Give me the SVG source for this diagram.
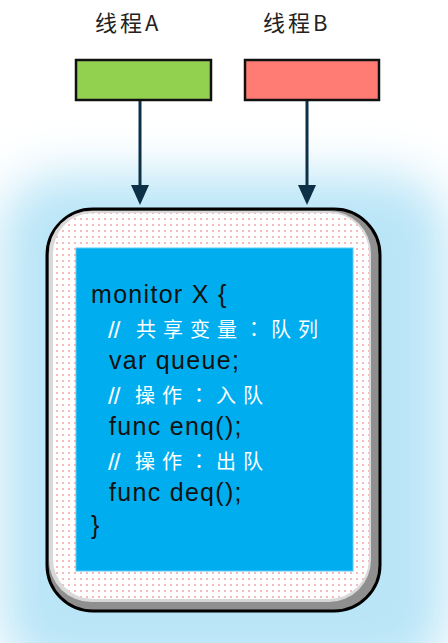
<svg xmlns="http://www.w3.org/2000/svg" width="448" height="643" viewBox="0 0 448 643">
<defs>
<style>
.title{font-family:"Noto Sans CJK SC","Liberation Sans",sans-serif;font-size:22px;fill:#222;letter-spacing:3px}
.code{font-family:"Liberation Sans","Noto Sans CJK SC",sans-serif;font-size:25px;fill:#111;letter-spacing:1.3px}
.sl{font-family:"Liberation Sans",sans-serif;font-size:24px;fill:#ffffff;letter-spacing:-1px}
.cmt{font-family:"Noto Sans CJK SC","Liberation Sans",sans-serif;font-size:20px;fill:#ffffff;letter-spacing:7px}
.col{font-family:"Noto Sans CJK TC","Noto Sans CJK SC",sans-serif}
.conn{stroke:#0d3046;stroke-width:3;fill:none}
</style>
<pattern id="dots" width="6" height="6" patternUnits="userSpaceOnUse">
<rect width="6" height="6" fill="#ffffff"/>
<circle cx="3" cy="3" r="0.9" fill="#f39a9a"/>
</pattern>
<filter id="glow" x="-30%" y="-30%" width="160%" height="160%">
<feGaussianBlur stdDeviation="25"/>
</filter>
</defs>
<rect width="448" height="643" fill="#ffffff"/>
<rect x="0" y="175" width="448" height="500" rx="60" fill="#b9e5f7" filter="url(#glow)"/>
<g id="threadA">
<text class="title" x="95" y="31">线程A</text>
<rect x="76" y="60" width="135" height="40" fill="#92d050" stroke="#111" stroke-width="2.5"/>
</g>
<g id="threadB">
<text class="title" x="263" y="31">线程B</text>
<rect x="245" y="60" width="134" height="40" fill="#ff7c74" stroke="#111" stroke-width="2.5"/>
</g>
<g id="connectors">
<line class="conn" x1="140" y1="101" x2="140" y2="186"/>
<path d="M131,185 L149,185 L140,205 Z" fill="#0d3046"/>
<line class="conn" x1="307" y1="101" x2="307" y2="186"/>
<path d="M298,185 L316,185 L307,205 Z" fill="#0d3046"/>
</g>
<g id="monitor">
<rect x="47" y="209" width="333" height="402" rx="46" fill="#8f8f8f" stroke="#000" stroke-width="3"/>
<rect x="49" y="211" width="322" height="391" rx="42" fill="#d8d8d8"/>
<rect x="53" y="213" width="316" height="386" rx="40" fill="url(#dots)"/>
<rect x="76" y="248" width="277" height="323" fill="#00aeef" stroke="#5cc8f2" stroke-width="1"/>
<text class="code" x="91" y="303">monitor X {</text>
<text class="sl" x="108" y="338">//</text>
<text class="cmt" x="136" y="337">共享变量<tspan class="col">：</tspan>队列</text>
<text class="code" x="109" y="369">var queue;</text>
<text class="sl" x="108" y="404">//</text>
<text class="cmt" x="135" y="403">操作<tspan class="col">：</tspan>入队</text>
<text class="code" x="109" y="435">func enq();</text>
<text class="sl" x="108" y="470">//</text>
<text class="cmt" x="135" y="469">操作<tspan class="col">：</tspan>出队</text>
<text class="code" x="109" y="501">func deq();</text>
<text class="code" x="91" y="534">}</text>
</g>
</svg>
